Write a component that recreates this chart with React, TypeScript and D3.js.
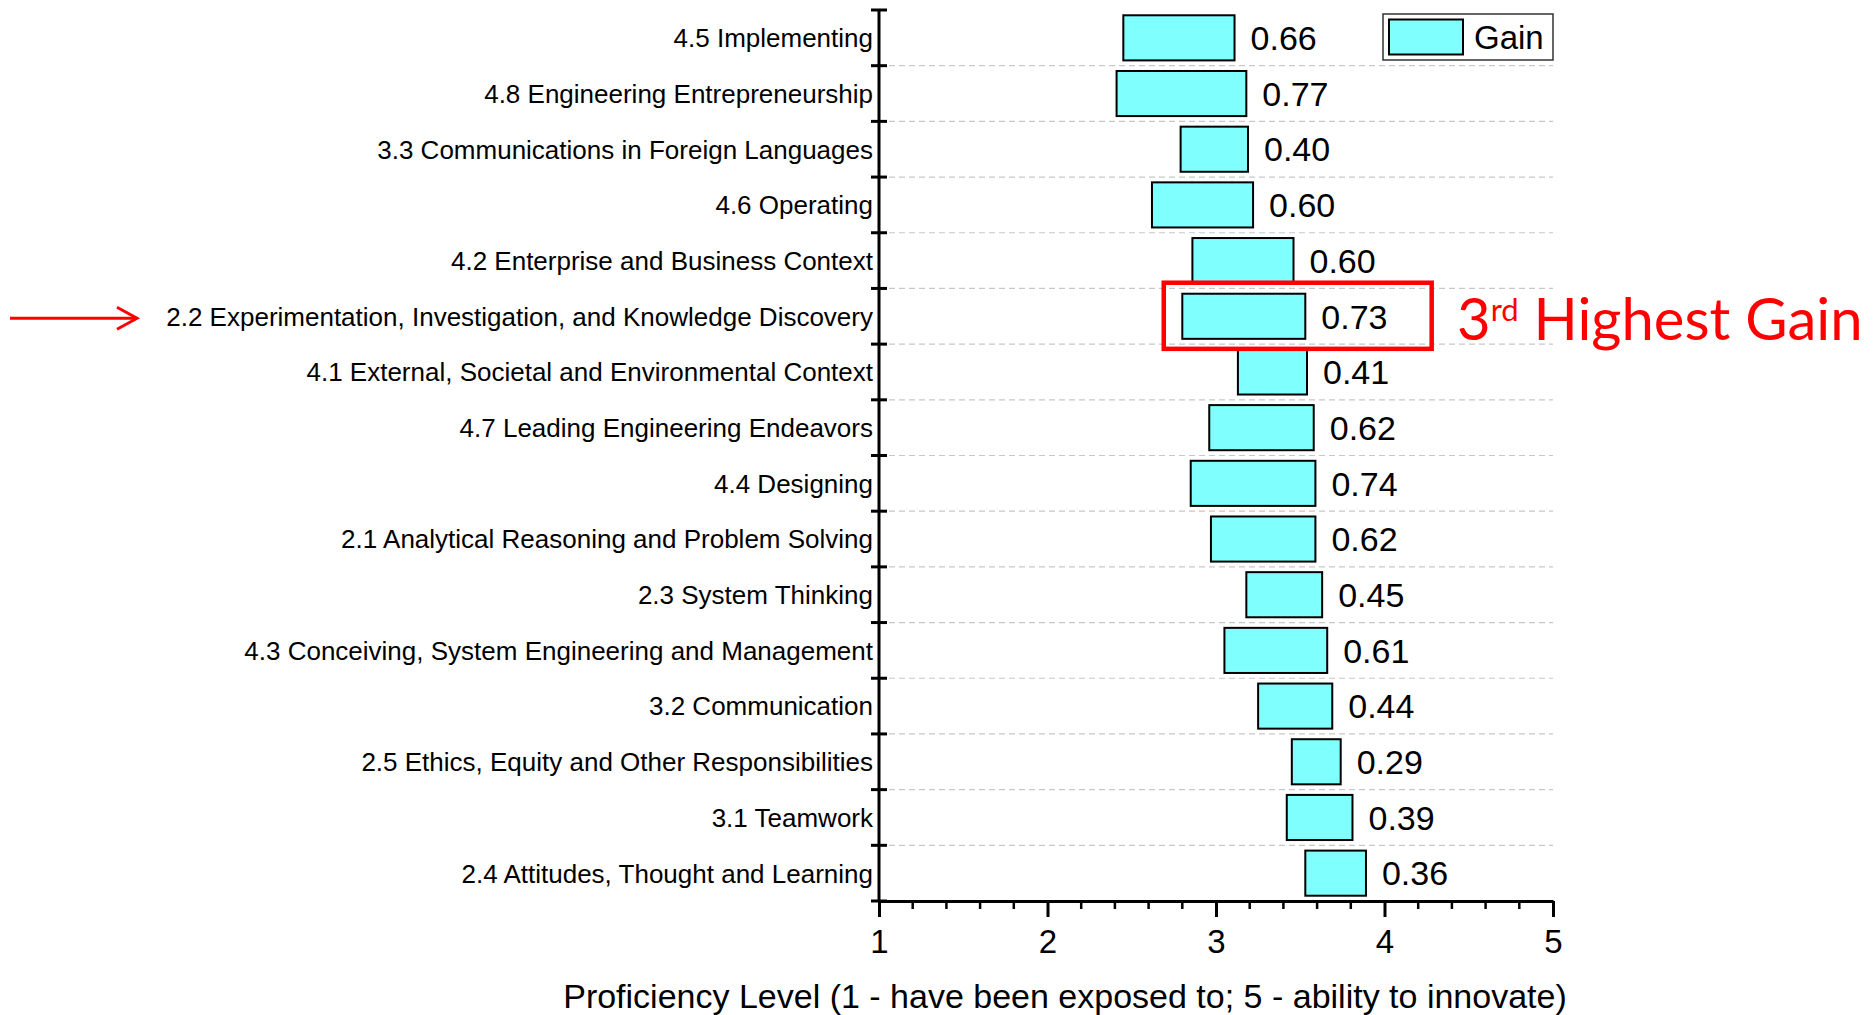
import React, { useEffect, useRef } from "react";
import * as d3 from "d3";

const categories = [
  "4.5 Implementing",
  "4.8 Engineering Entrepreneurship",
  "3.3 Communications in Foreign Languages",
  "4.6 Operating",
  "4.2 Enterprise and Business Context",
  "2.2 Experimentation, Investigation, and Knowledge Discovery",
  "4.1 External, Societal and Environmental Context",
  "4.7 Leading Engineering Endeavors",
  "4.4 Designing",
  "2.1 Analytical Reasoning and Problem Solving",
  "2.3 System Thinking",
  "4.3 Conceiving, System Engineering and Management",
  "3.2 Communication",
  "2.5 Ethics, Equity and Other Responsibilities",
  "3.1 Teamwork",
  "2.4 Attitudes, Thought and Learning",
];

// proficiency level before (bar start) and the gain (bar length)
const startLevels = [2.45, 2.41, 2.79, 2.62, 2.86, 2.8, 3.13, 2.96, 2.85, 2.97, 3.18, 3.05, 3.25, 3.45, 3.42, 3.53];
const gains = [0.66, 0.77, 0.4, 0.6, 0.6, 0.73, 0.41, 0.62, 0.74, 0.62, 0.45, 0.61, 0.44, 0.29, 0.39, 0.36];

const xTicks = [1, 2, 3, 4, 5];
const xTitle = "Proficiency Level (1 - have been exposed to; 5 - ability to innovate)";
const highlighted = "2.2 Experimentation, Investigation, and Knowledge Discovery";
const legendLabel = "Gain";

const W = 1875;
const H = 1015;
const FONT = "'Liberation Sans', Arial, sans-serif";

const App = () => {
  const ref = useRef<SVGSVGElement>(null);

  useEffect(() => {
    document.body.style.margin = "0";
    const svg = d3.select(ref.current);
    svg.selectAll("*").remove();

    const x = d3.scaleLinear().domain([1, 5]).range([879, 1553]);
    const y = d3
      .scaleBand<string>()
      .domain(categories)
      .range([10, 901])
      .paddingInner(0.19)
      .paddingOuter(0.095);
    const step = y.step();
    const y0 = y.range()[0];
    const bounds = d3.range(categories.length + 1).map((i) => y0 + i * step);
    const yBottom = bounds[bounds.length - 1];

    const rows = categories.map((c, i) => ({ c, start: startLevels[i], gain: gains[i] }));

    svg.attr("width", W).attr("height", H).style("display", "block").style("font-family", FONT);
    svg.append("rect").attr("width", W).attr("height", H).attr("fill", "#fff");

    // dashed row separators
    svg
      .append("g")
      .selectAll("line")
      .data(bounds.slice(1, -1))
      .join("line")
      .attr("x1", x(1))
      .attr("x2", x(5))
      .attr("y1", (d) => d)
      .attr("y2", (d) => d)
      .attr("stroke", "#c8c8c8")
      .attr("stroke-width", 1.2)
      .attr("stroke-dasharray", "6,4");

    // floating bars
    svg
      .append("g")
      .selectAll("rect")
      .data(rows)
      .join("rect")
      .attr("x", (d) => x(d.start))
      .attr("y", (d) => y(d.c)!)
      .attr("width", (d) => x(d.start + d.gain) - x(d.start))
      .attr("height", y.bandwidth())
      .attr("fill", "#80ffff")
      .attr("stroke", "#000")
      .attr("stroke-width", 2);

    // gain labels
    svg
      .append("g")
      .selectAll("text")
      .data(rows)
      .join("text")
      .attr("x", (d) => x(d.start + d.gain) + 16)
      .attr("y", (d) => y(d.c)! + y.bandwidth() / 2)
      .attr("dy", "0.36em")
      .attr("font-size", 34)
      .text((d) => d.gain.toFixed(2));

    // category labels
    svg
      .append("g")
      .selectAll("text")
      .data(categories)
      .join("text")
      .attr("x", x(1) - 6)
      .attr("y", (d) => y(d)! + y.bandwidth() / 2)
      .attr("dy", "0.36em")
      .attr("text-anchor", "end")
      .attr("font-size", 26)
      .text((d) => d);

    // y axis with ticks on row boundaries
    const yAxis = svg.append("g").attr("stroke", "#000");
    yAxis
      .append("line")
      .attr("x1", x(1))
      .attr("x2", x(1))
      .attr("y1", y0)
      .attr("y2", yBottom)
      .attr("stroke-width", 3);
    yAxis
      .selectAll("line.tick")
      .data(bounds)
      .join("line")
      .attr("class", "tick")
      .attr("x1", x(1) - 8)
      .attr("x2", x(1) + 8)
      .attr("y1", (d) => d)
      .attr("y2", (d) => d)
      .attr("stroke-width", 3);

    // x axis
    const xAxis = svg
      .append("g")
      .attr("transform", `translate(0,${yBottom})`)
      .call(d3.axisBottom(x).tickValues(xTicks).tickSize(16).tickSizeOuter(0).tickPadding(13).tickFormat(d3.format("d")));
    xAxis.select(".domain").attr("stroke-width", 3);
    xAxis.selectAll(".tick line").attr("stroke-width", 3);
    xAxis.selectAll(".tick text").attr("font-size", 33).attr("font-family", FONT).attr("fill", "#000");

    const minor = d3.range(1, 5.001, 0.2).filter((v) => Math.abs(v - Math.round(v)) > 0.01);
    xAxis
      .append("g")
      .selectAll("line")
      .data(minor)
      .join("line")
      .attr("x1", (d) => x(d))
      .attr("x2", (d) => x(d))
      .attr("y1", 0)
      .attr("y2", 8)
      .attr("stroke", "#000")
      .attr("stroke-width", 2.5);

    svg
      .append("text")
      .attr("x", 1065)
      .attr("y", 1008)
      .attr("text-anchor", "middle")
      .attr("font-size", 34)
      .text(xTitle);

    // legend
    const lg = svg.append("g");
    lg.append("rect")
      .attr("x", 1383)
      .attr("y", 14)
      .attr("width", 170)
      .attr("height", 46)
      .attr("fill", "#fff")
      .attr("stroke", "#333")
      .attr("stroke-width", 1.5);
    lg.append("rect")
      .attr("x", 1389)
      .attr("y", 19.5)
      .attr("width", 74)
      .attr("height", 35)
      .attr("fill", "#80ffff")
      .attr("stroke", "#000")
      .attr("stroke-width", 2);
    lg.append("text").attr("x", 1474).attr("y", 49).attr("font-size", 33).text(legendLabel);

    // highlight annotation
    const hy = y(highlighted)!;
    const hc = hy + y.bandwidth() / 2;
    svg
      .append("rect")
      .attr("x", x(2.69))
      .attr("y", hy - 11)
      .attr("width", x(4.28) - x(2.69))
      .attr("height", y.bandwidth() + 21)
      .attr("fill", "none")
      .attr("stroke", "#ff0000")
      .attr("stroke-width", 4.5);

    const note = svg
      .append("text")
      .attr("x", 1457)
      .attr("y", 340)
      .attr("fill", "#ff0000")
      .attr("font-family", "Lato, 'Open Sans', sans-serif")
      .attr("font-size", 58);
    note.append("tspan").text("3");
    note.append("tspan").attr("font-size", 31).attr("dy", -19).text("rd");
    note.append("tspan").attr("dy", 19).text(" Highest Gain");

    const arrow = svg.append("g").attr("stroke", "#ff0000").attr("stroke-width", 3).attr("fill", "none");
    arrow.append("line").attr("x1", 10).attr("x2", 137).attr("y1", hc + 2).attr("y2", hc + 2);
    arrow
      .append("polyline")
      .attr("points", `117,${hc - 9} 137,${hc + 2} 117,${hc + 13}`);
  }, []);

  return <svg ref={ref}></svg>;
};

export default App;
